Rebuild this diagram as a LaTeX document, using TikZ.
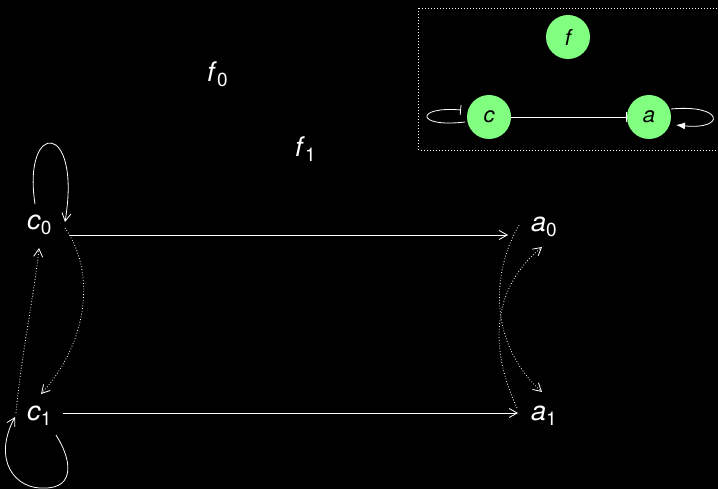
\documentclass[tikz,border=0pt]{standalone}
\usepackage{fontspec}
\setmainfont{TeX Gyre Heros}
\usetikzlibrary{arrows.meta}
\definecolor{nodegreen}{HTML}{80FF80}
\newcommand{\lbl}[2]{\textit{#1}\raisebox{-5pt}{\fontsize{19}{19}\selectfont #2}}
\begin{document}
\begin{tikzpicture}[x=1pt,y=-1pt,
  lab/.style={text=white, font=\fontsize{27}{27}\selectfont, inner sep=0pt, anchor=base west},
  wire/.style={draw=white, line width=0.8pt},
  tipo/.style={-{Straight Barb[length=8pt,width=9pt]}},
  dots/.style={wire, dash pattern=on 0.8pt off 2pt},
  gnode/.style={circle, fill=nodegreen, minimum size=44pt, inner sep=0pt, text=black, font=\itshape\fontsize{22}{22}\selectfont}
]
\useasboundingbox (0,0) rectangle (718,489);
\fill[black] (0,0) rectangle (718,489);
\begin{scope}
\clip (0,0) rectangle (718,489);
% inset
\draw[white, line width=0.8pt, dash pattern=on 1pt off 2pt] (418.5,8.5) rectangle (730,150.5);
\node[gnode] (f) at (568,37) {f};
\node[gnode] (c) at (489,117) {c};
\node[gnode] (a) at (649,117) {a};
\draw[wire, -{Bar[width=10pt]}] (c) -- (a);
\draw[wire, -{Bar[width=10pt]}] ([shift={(-24,5)}]c.center) .. controls (415,128) and (415,106) .. ([shift={(-28,-7)}]c.center);
\draw[wire, -{Latex[length=9pt,width=7pt]}] ([shift={(22,-8)}]a.center) .. controls (724,104) and (726,130) .. ([shift={(27,8)}]a.center);
\end{scope}
% main labels
\node[lab] (f0) at (207,82) {\lbl{f}{0}};
\node[lab] (f1) at (295,157) {\lbl{f}{1}};
\node[lab] (c0) at (27,230) {\lbl{c}{0}};
\node[lab] (c1) at (27,420) {\lbl{c}{1}};
\node[lab] (a0) at (531,232) {\lbl{a}{0}};
\node[lab] (a1) at (531,420) {\lbl{a}{1}};
% solid arrows
\draw[wire, tipo] ([shift={(43,5)}]c0.base west) -- ([shift={(-23,3)}]a0.base west);
\draw[wire, tipo] ([shift={(36,-7)}]c1.base west) -- ([shift={(-13,-7)}]a1.base west);
% self loops
\draw[wire, tipo] ([shift={(8,-26)}]c0.base west) .. controls (22,120) and (82,120) .. ([shift={(38,-8)}]c0.base west);
\coordinate (c1bot) at (45,488);
\draw[wire, tipo] ([shift={(29,15)}]c1.base west) .. controls (72,460) and (75,488) .. (c1bot)
   .. controls (15,490) and (-8,460) .. ([shift={(-12,-3)}]c1.base west);
% dotted arrows
\draw[dots, tipo] ([shift={(38,-2)}]c0.base west) .. controls (95,270) and (90,340) .. ([shift={(14,-26)}]c1.base west);
\draw[dots, tipo] ([shift={(-11,-7)}]c1.base west) .. controls (22,350) and (35,290) .. ([shift={(12,18)}]c0.base west);
\draw[dots, tipo] ([shift={(-12,-7)}]a0.base west) .. controls (490,275) and (490,345) .. ([shift={(11,-28)}]a1.base west);
\draw[dots, tipo] ([shift={(-14,-12)}]a1.base west) .. controls (490,350) and (490,290) .. ([shift={(11,15)}]a0.base west);
\end{tikzpicture}
\end{document}
